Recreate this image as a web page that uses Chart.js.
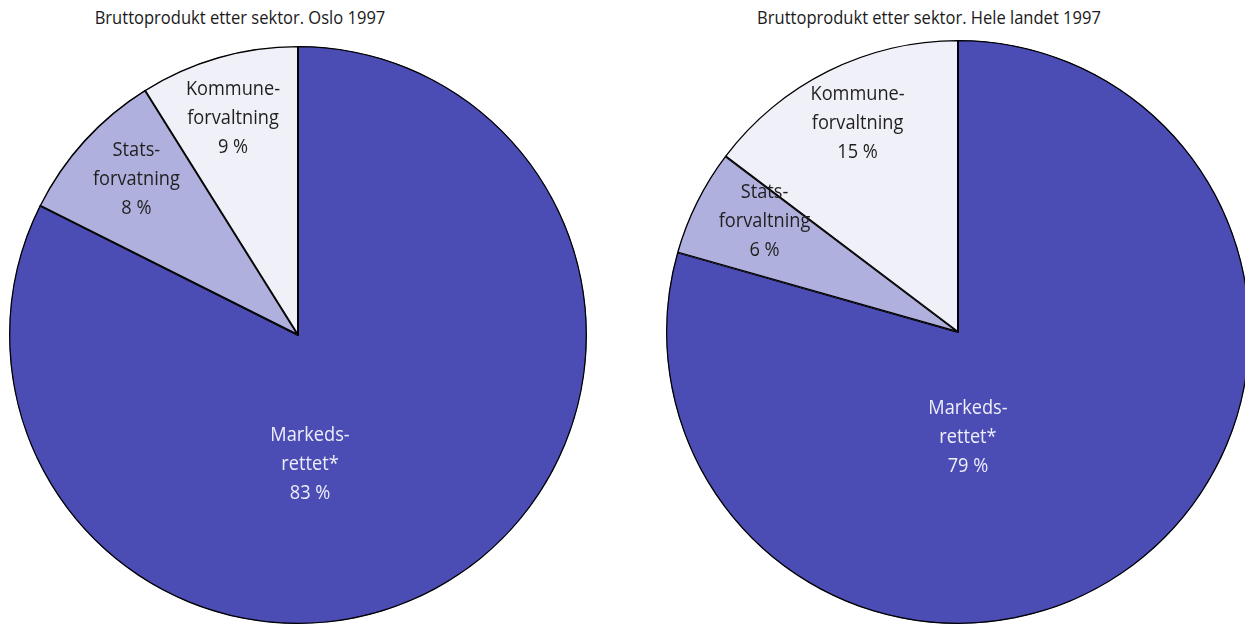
<!DOCTYPE html>
<html>
<head>
<meta charset="utf-8">
<script src="https://cdn.jsdelivr.net/npm/chart.js@4/dist/chart.umd.min.js"></script>
<style>
    html, body { margin: 0; padding: 0; background: #fff; overflow: hidden; }
    body { width: 1245px; height: 625px; position: relative; font-family: "Open Sans", sans-serif; }
    .title { position: absolute; top: 4px; font-size: 19px; color: #1a1a1a; white-space: nowrap; transform: translateX(-50%) scaleX(0.87); }
    .pie { position: absolute; }
</style>
</head>
<body>
<div class="title" style="left: 240px;">Bruttoprodukt etter sektor. Oslo 1997</div>
<div class="title" style="left: 929px;">Bruttoprodukt etter sektor. Hele landet 1997</div>
<div class="pie" style="left: 9px; top: 46px; width: 578px; height: 578px;"><canvas id="osloPie"></canvas></div>
<div class="pie" style="left: 666px; top: 40px; width: 584px; height: 584px;"><canvas id="landetPie"></canvas></div>
<script>
const sectors = ['Markedsrettet*', 'Statsforvaltning', 'Kommuneforvaltning'];
const osloLines = [['Markeds-', 'rettet*'], ['Stats-', 'forvatning'], ['Kommune-', 'forvaltning']];
const landetLines = [['Markeds-', 'rettet*'], ['Stats-', 'forvaltning'], ['Kommune-', 'forvaltning']];
const osloShares = [82.4, 8.7, 8.9];
const landetShares = [79.4, 5.9, 14.7];
const osloLabels = ['83 %', '8 %', '9 %'];
const landetLabels = ['79 %', '6 %', '15 %'];

const sliceColors = ['#4b4db5', '#b0b0de', '#f0f0f8'];
const textColors = ['#eeeefa', '#1f1f1f', '#1f1f1f'];

// where each label sits: degrees clockwise from 12 o'clock, and share of the radius
const osloSpots = [[174.7, 0.45], [313.9, 0.776], [343.3, 0.783]];
const landetSpots = [[174.6, 0.362], [299.7, 0.763], [334.3, 0.793]];

const sliceLabels = {
    id: 'sliceLabels',
    afterDatasetsDraw(chart, args, opts) {
        const ctx = chart.ctx;
        const meta = chart.getDatasetMeta(0);
        ctx.save();
        ctx.font = '20px "Open Sans", sans-serif';
        ctx.textAlign = 'center';
        ctx.textBaseline = 'middle';
        meta.data.forEach((arc, i) => {
            const p = arc.getProps(['x', 'y', 'outerRadius'], true);
            const angle = opts.spots[i][0] * Math.PI / 180 - Math.PI / 2;
            const r = p.outerRadius * opts.spots[i][1];
            const cx = p.x + Math.cos(angle) * r;
            const cy = p.y + Math.sin(angle) * r;
            const lines = opts.lines[i].concat([opts.values[i]]);
            const lh = 29;
            ctx.fillStyle = textColors[i];
            lines.forEach((line, j) => {
                ctx.save();
                ctx.translate(cx, cy + (j - (lines.length - 1) / 2) * lh);
                ctx.scale(0.91, 1);
                ctx.fillText(line, 0, 0);
                ctx.restore();
            });
        });
        ctx.restore();
    }
};

function makePie(id, shares, lines, values, spots) {
    return new Chart(document.getElementById(id), {
        type: 'pie',
        data: {
            labels: sectors,
            datasets: [{
                data: shares,
                backgroundColor: sliceColors,
                borderColor: '#000000',
                borderWidth: 1,
                borderAlign: 'inner'
            }]
        },
        options: {
            responsive: true,
            maintainAspectRatio: false,
            animation: false,
            layout: { padding: 0 },
            plugins: {
                legend: { display: false },
                tooltip: { enabled: false },
                sliceLabels: { lines: lines, values: values, spots: spots }
            }
        },
        plugins: [sliceLabels]
    });
}

makePie('osloPie', osloShares, osloLines, osloLabels, osloSpots);
makePie('landetPie', landetShares, landetLines, landetLabels, landetSpots);
</script>
</body>
</html>
